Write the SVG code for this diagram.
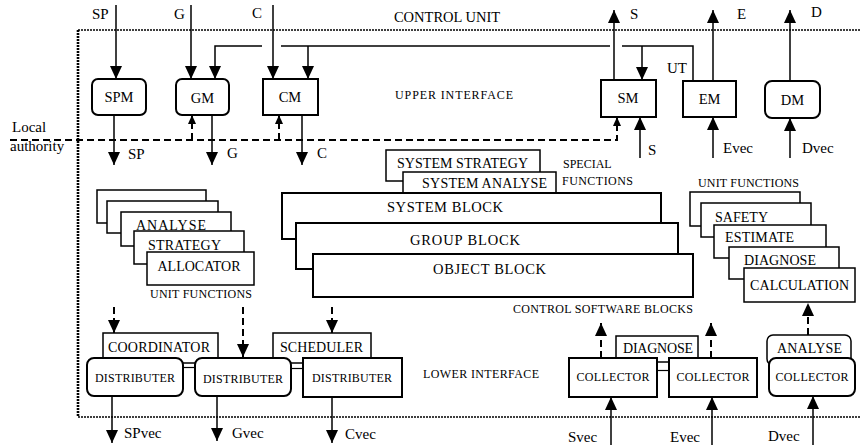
<svg xmlns="http://www.w3.org/2000/svg" width="860" height="445" viewBox="0 0 860 445" font-family="'Liberation Serif', 'Times New Roman', serif">
<style>
text{font-family:'Liberation Serif','Times New Roman',serif;fill:#000}
.t{font-size:15px}
.b{font-size:14.5px}
.u{font-size:14px}
.s{font-size:12px}
.m{text-anchor:middle}
.box{fill:#fff;stroke:#000;stroke-width:2}
.thin{fill:#fff;stroke:#000;stroke-width:1.5}
.ln{fill:none;stroke:#000;stroke-width:1.5}
.hl{fill:none;stroke:#000;stroke-width:1.2}
.dash{fill:none;stroke:#000;stroke-width:2;stroke-dasharray:7 4}
.dot{fill:none;stroke:#000;stroke-dasharray:2 1}
</style>
<defs>
<marker id="ah" markerUnits="userSpaceOnUse" markerWidth="14" markerHeight="12" refX="13" refY="6" orient="auto"><path d="M0,0 L13,6 L0,12 z" fill="#000"/></marker>
<marker id="as" markerUnits="userSpaceOnUse" markerWidth="10" markerHeight="9" refX="9" refY="4" orient="auto"><path d="M0,0 L9,4 L0,8 z" fill="#000"/></marker>
</defs>
<rect width="860" height="445" fill="#fff"/>

<g id="control-unit">
<path class="dot" stroke-width="1.6" d="M78,30 H860 M78,417 H860"/>
<path class="dot" stroke-width="2.6" d="M78,30 V417"/>
<text class="b m" x="447" y="22">CONTROL UNIT</text>
<text class="s" x="395" y="99" textLength="118">UPPER INTERFACE</text>
<text class="s" x="423" y="378" textLength="116">LOWER INTERFACE</text>
<text class="t" x="12" y="132">Local</text>
<text class="t" x="10" y="151">authority</text>
</g>

<g id="SPM"><rect class="box" x="92" y="79" width="54" height="36" rx="6"/><text class="b m" x="119" y="102">SPM</text></g>
<g id="GM"><rect class="box" x="176" y="79" width="53" height="36" rx="6"/><text class="b m" x="202.5" y="103">GM</text></g>
<g id="CM"><rect class="box" x="263" y="79" width="55" height="36"/><text class="b m" x="290" y="102">CM</text></g>
<g id="SM"><rect class="box" x="601" y="80" width="55" height="37"/><text class="b m" x="628" y="103">SM</text></g>
<g id="EM"><rect class="box" x="683" y="81" width="53" height="36"/><text class="b m" x="709.5" y="104">EM</text></g>
<g id="DM"><rect class="box" x="765" y="81" width="55" height="37" rx="7"/><text class="b m" x="792.5" y="105">DM</text></g>

<g id="unit-functions-left">
<rect class="thin" x="97" y="190" width="109" height="33"/>
<rect class="thin" x="107" y="201" width="111" height="32"/>
<rect class="thin" x="121" y="212" width="110" height="34"/>
<text class="u" x="136" y="230" textLength="70">ANALYSE</text>
<rect class="thin" x="134" y="231" width="110" height="33"/>
<text class="u" x="148" y="250" textLength="73">STRATEGY</text>
<rect class="thin" x="147" y="252" width="107" height="33"/>
<text class="u m" x="199" y="271" textLength="83">ALLOCATOR</text>
<text class="s" x="150" y="298" textLength="102">UNIT FUNCTIONS</text>
</g>

<g id="special-functions">
<rect class="thin" x="386" y="150" width="154" height="31"/>
<text class="u" x="397" y="168" textLength="131">SYSTEM STRATEGY</text>
<rect class="thin" x="403" y="172" width="153" height="25"/>
<text class="u" x="422" y="188" textLength="125">SYSTEM ANALYSE</text>
<text class="s" x="563" y="168">SPECIAL</text>
<text class="s" x="562" y="185" textLength="71">FUNCTIONS</text>
</g>

<g id="control-software-blocks">
<rect class="box" x="282" y="193" width="379" height="46"/>
<text class="b m" x="445" y="212" textLength="116">SYSTEM BLOCK</text>
<rect class="box" x="296" y="223" width="382" height="46"/>
<text class="b m" x="465" y="245" textLength="110">GROUP BLOCK</text>
<rect class="box" x="313" y="254" width="380" height="43"/>
<text class="b m" x="489.5" y="274" textLength="113">OBJECT BLOCK</text>
<text class="s" x="513" y="313" textLength="180">CONTROL SOFTWARE BLOCKS</text>
</g>

<g id="unit-functions-right">
<text class="s" x="698" y="187" textLength="101">UNIT FUNCTIONS</text>
<rect class="thin" x="690" y="192" width="110" height="34"/>
<rect class="thin" x="701" y="203" width="110" height="34"/>
<text class="u" x="715" y="222" textLength="53">SAFETY</text>
<rect class="thin" x="714" y="225" width="112" height="33"/>
<text class="u" x="725" y="242" textLength="69">ESTIMATE</text>
<rect class="thin" x="729" y="247" width="110" height="32"/>
<text class="u" x="744" y="265" textLength="72">DIAGNOSE</text>
<rect class="thin" x="744" y="268" width="111" height="34"/>
<text class="u" x="750" y="290" textLength="99">CALCULATION</text>
</g>

<g id="COORDINATOR"><rect class="thin" x="103" y="333" width="115" height="30"/><text class="u" x="108" y="352" textLength="102">COORDINATOR</text></g>
<g id="SCHEDULER"><rect class="thin" x="273" y="333" width="98" height="30"/><text class="u" x="280" y="352" textLength="83">SCHEDULER</text></g>
<g id="DISTRIBUTER-1"><rect class="box" x="87" y="358" width="96" height="38" rx="7"/><text class="s m" x="135" y="382" textLength="80">DISTRIBUTER</text></g>
<g id="DISTRIBUTER-2"><rect class="box" x="195" y="358" width="96" height="38" rx="7"/><text class="s m" x="243" y="383" textLength="80">DISTRIBUTER</text></g>
<g id="DISTRIBUTER-3"><rect class="box" x="303" y="358" width="99" height="39"/><text class="s m" x="352" y="382" textLength="80">DISTRIBUTER</text></g>

<g id="DIAGNOSE"><rect class="thin" x="616" y="336" width="82" height="26"/><text class="u" x="623" y="353" textLength="70">DIAGNOSE</text></g>
<g id="COLLECTOR-1"><rect class="box" x="569" y="358" width="88" height="39"/><text class="s m" x="613" y="381" textLength="73">COLLECTOR</text></g>
<g id="COLLECTOR-2"><rect class="box" x="669" y="358" width="88" height="39"/><text class="s m" x="713" y="381" textLength="73">COLLECTOR</text></g>
<g id="ANALYSE"><rect class="thin" x="767" y="335" width="84" height="30" rx="6"/><text class="u" x="777" y="353" textLength="65">ANALYSE</text></g>
<g id="COLLECTOR-3"><rect class="box" x="769" y="358" width="86" height="38" rx="7"/><text class="s m" x="812" y="381" textLength="73">COLLECTOR</text></g>

<g id="connectors">
<line class="ln" x1="116" y1="5" x2="116" y2="79" marker-end="url(#ah)"/>
<line class="ln" x1="191" y1="5" x2="191" y2="79" marker-end="url(#ah)"/>
<line class="ln" x1="273" y1="5" x2="273" y2="79" marker-end="url(#ah)"/>
<path class="ln" d="M693,81 V46 H622"/>
<line class="ln" x1="610" y1="46" x2="281" y2="46"/>
<path class="ln" d="M262,46 H215 V79" marker-end="url(#ah)"/>
<line class="ln" x1="308" y1="46" x2="308" y2="79" marker-end="url(#ah)"/>
<line class="ln" x1="642" y1="46" x2="642" y2="80" marker-end="url(#ah)"/>
<line class="ln" x1="614" y1="80" x2="614" y2="10" marker-end="url(#ah)"/>
<line class="ln" x1="713" y1="81" x2="713" y2="10" marker-end="url(#ah)"/>
<line class="ln" x1="790" y1="81" x2="790" y2="10" marker-end="url(#ah)"/>
<line class="ln" x1="640" y1="158" x2="640" y2="117" marker-end="url(#ah)"/>
<line class="ln" x1="713" y1="158" x2="713" y2="117" marker-end="url(#ah)"/>
<line class="ln" x1="790" y1="158" x2="790" y2="118" marker-end="url(#ah)"/>
<path class="dash" d="M10,140 H617 V117" marker-end="url(#as)"/>
<line class="dash" x1="192" y1="140" x2="192" y2="115" marker-end="url(#as)"/>
<line class="dash" x1="279" y1="140" x2="279" y2="115" marker-end="url(#as)"/>
<line class="ln" x1="114" y1="115" x2="114" y2="165" marker-end="url(#ah)"/>
<line class="ln" x1="212" y1="115" x2="212" y2="165" marker-end="url(#ah)"/>
<line class="ln" x1="302" y1="115" x2="302" y2="165" marker-end="url(#ah)"/>
<line class="dash" x1="114" y1="307" x2="114" y2="333" marker-end="url(#ah)"/>
<line class="dash" x1="243" y1="307" x2="243" y2="357" marker-end="url(#ah)"/>
<line class="dash" x1="332" y1="307" x2="332" y2="333" marker-end="url(#ah)"/>
<line class="hl" x1="183" y1="367.5" x2="195" y2="367.5"/>
<line class="hl" x1="291" y1="368.5" x2="303" y2="368.5"/>
<line class="hl" x1="657" y1="370.5" x2="669" y2="370.5"/>
<line class="ln" x1="112" y1="396" x2="112" y2="443" marker-end="url(#ah)"/>
<line class="ln" x1="217" y1="396" x2="217" y2="441" marker-end="url(#ah)"/>
<line class="ln" x1="332" y1="397" x2="332" y2="443" marker-end="url(#ah)"/>
<line class="dash" x1="601" y1="358" x2="601" y2="323" marker-end="url(#ah)"/>
<line class="dash" x1="711" y1="358" x2="711" y2="323" marker-end="url(#ah)"/>
<line class="dash" x1="808" y1="335" x2="808" y2="303" marker-end="url(#ah)"/>
<line class="ln" x1="611" y1="445" x2="611" y2="397" marker-end="url(#ah)"/>
<line class="ln" x1="712" y1="445" x2="712" y2="397" marker-end="url(#ah)"/>
<line class="ln" x1="813" y1="445" x2="813" y2="396" marker-end="url(#ah)"/>
</g>

<g id="labels">
<text class="t" x="92" y="19">SP</text>
<text class="t" x="174" y="19">G</text>
<text class="t" x="252" y="18">C</text>
<text class="t" x="630" y="19">S</text>
<text class="t" x="737" y="19">E</text>
<text class="t" x="811" y="17">D</text>
<text class="t" x="667" y="73">UT</text>
<text class="t" x="128" y="159">SP</text>
<text class="t" x="227" y="158">G</text>
<text class="t" x="317" y="158">C</text>
<text class="t" x="648" y="155">S</text>
<text class="t" x="723" y="153">Evec</text>
<text class="t" x="802" y="153">Dvec</text>
<text class="t" x="124" y="438">SPvec</text>
<text class="t" x="232" y="438">Gvec</text>
<text class="t" x="345" y="439">Cvec</text>
<text class="t" x="568" y="442">Svec</text>
<text class="t" x="670" y="442">Evec</text>
<text class="t" x="768" y="441">Dvec</text>
</g>
</svg>
